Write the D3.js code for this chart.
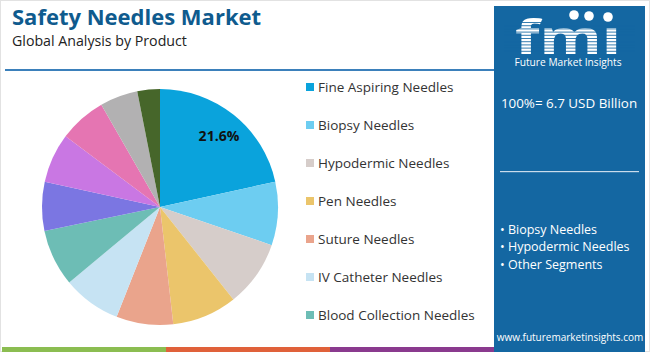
<!DOCTYPE html>
<html>
<head>
<meta charset="utf-8">
<script src="https://cdn.jsdelivr.net/npm/d3@7"></script>
<style>
html,body{margin:0;padding:0;background:#fff;}
svg{display:block;}
text{font-family:"Open Sans",sans-serif;}
</style>
</head>
<body>
<svg id="chart" width="650" height="352"></svg>
<script>
const categories = ["Fine Aspiring Needles","Biopsy Needles","Hypodermic Needles","Pen Needles","Suture Needles","IV Catheter Needles","Blood Collection Needles","Segment 8","Segment 9","Segment 10","Segment 11","Segment 12"];
const shares = [21.6, 8.7, 9.1, 8.9, 7.8, 8.0, 7.8, 6.7, 6.8, 6.5, 5.2, 3.1];
const colors = ["#0aa3dc","#6dcdf1","#d6cdca","#ebc56b","#eaa48c","#c6e3f3","#6dbdb5","#7b76e2","#c977e3","#e575b2","#b2b1b2","#46662a"];
const legendCount = 7;
const labelText = ["21.6%"];
const title = "Safety Needles Market";
const subtitle = "Global Analysis by Product";
const totalText = "100%= 6.7 USD Billion";
const bullets = ["• Biopsy Needles","• Hypodermic Needles","• Other Segments"];
const website = "www.futuremarketinsights.com";

const svg = d3.select("#chart");
const W = 650, H = 352;

// outer border
svg.append("rect").attr("x",0.5).attr("y",0.5).attr("width",W-1).attr("height",H-1)
  .attr("fill","#fff").attr("stroke","#e2e2e2");

// title
svg.append("text").attr("x",12).attr("y",25).text(title)
  .attr("font-family","Poppins, 'Open Sans', sans-serif").attr("font-weight",700)
  .attr("font-size",22).attr("fill","#0f5b8e");
svg.append("text").attr("x",12).attr("y",46).text(subtitle)
  .attr("font-size",14.2).attr("fill","#222");
// separator
svg.append("rect").attr("x",5).attr("y",69).attr("width",489).attr("height",2).attr("fill","#3b80bb");

// bottom stripe
const stripeColors = ["#8bbd51","#e0613a","#8a3a8e"];
const sx = d3.scaleBand().domain(d3.range(3)).range([2,494]);
svg.selectAll("rect.stripe").data(stripeColors).join("rect")
  .attr("x",(d,i)=>sx(i)).attr("y",347).attr("width",sx.bandwidth()).attr("height",5).attr("fill",d=>d);

// pie
const cx = 160, cy = 207, R = 118;
const pie = d3.pie().sort(null).value(d=>d);
const arcs = pie(shares);
const arc = d3.arc().innerRadius(0).outerRadius(R);
const g = svg.append("g").attr("transform",`translate(${cx},${cy})`);
g.selectAll("path").data(arcs).join("path")
  .attr("d",arc).attr("fill",(d,i)=>colors[i]);
const labelArc = d3.arc().innerRadius(R*0.77).outerRadius(R*0.77);
g.selectAll("text.lbl").data(arcs.slice(0,labelText.length)).join("text")
  .attr("class","lbl")
  .attr("transform",d=>{const c=labelArc.centroid(d);return `translate(${c[0]+2},${c[1]})`;})
  .attr("text-anchor","middle").attr("dy","0.35em")
  .attr("font-weight",700).attr("font-size",14).attr("fill","#111")
  .text((d,i)=>labelText[i]);

// legend
const ly = d3.scalePoint().domain(d3.range(legendCount)).range([87,315]);
const leg = svg.append("g");
const items = leg.selectAll("g").data(categories.slice(0,legendCount)).join("g")
  .attr("transform",(d,i)=>`translate(306,${ly(i)})`);
items.append("rect").attr("x",0).attr("y",-4).attr("width",8).attr("height",8)
  .attr("fill",(d,i)=>colors[i]);
items.append("text").attr("x",12).attr("dy","0.35em").attr("font-size",13.5)
  .attr("fill","#333").text(d=>d);

// right panel
const px = 494, pw = 151;
svg.append("rect").attr("x",px).attr("y",6).attr("width",pw).attr("height",H-6).attr("fill","#1467a2");
// logo
const logo = svg.append("g");
logo.append("text").attr("x",515).attr("y",54)
  .attr("font-family","'DejaVu Serif', serif").attr("font-weight",700)
  .attr("font-size",46).attr("fill","#fff")
  .attr("textLength",106).attr("lengthAdjust","spacingAndGlyphs").text("fmı");
for (let y = 22; y < 55; y += 3.2) {
  logo.append("rect").attr("x",px+10).attr("y",y).attr("width",pw-20).attr("height",1).attr("fill","#1467a2").attr("opacity",0.85);
}
[[574,15],[589,16],[608,17]].forEach(p=>{
  logo.append("circle").attr("cx",p[0]).attr("cy",p[1]).attr("r",4.8).attr("fill","#fff");
});
svg.append("text").attr("x",568).attr("y",66).attr("text-anchor","middle")
  .attr("font-size",10.2).attr("fill","#fff").text("Future Market Insights");
svg.append("text").attr("x",569).attr("y",108).attr("text-anchor","middle")
  .attr("font-size",13.4).attr("fill","#fff").text(totalText);
svg.append("rect").attr("x",500).attr("y",171).attr("width",139).attr("height",1.2).attr("fill","#c9dcec");
svg.selectAll("text.bul").data(bullets).join("text").attr("class","bul")
  .attr("x",500).attr("y",(d,i)=>234+i*17.3).attr("font-size",12.5).attr("fill","#fff").text(d=>d);
svg.append("text").attr("x",570).attr("y",341).attr("text-anchor","middle")
  .attr("font-size",10).attr("fill","#fff").text(website);
</script>
</body>
</html>
